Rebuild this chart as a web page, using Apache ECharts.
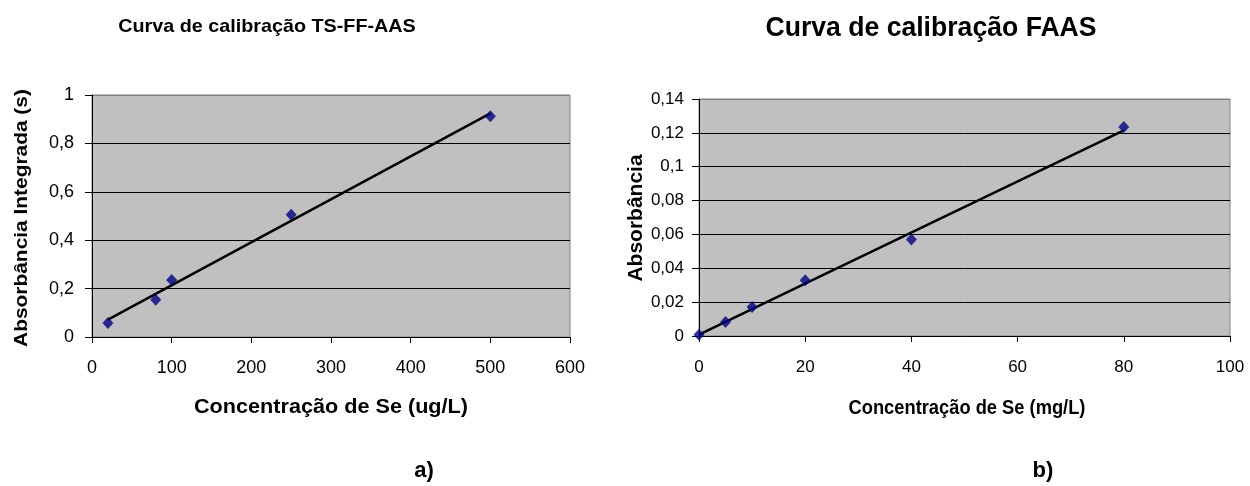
<!DOCTYPE html>
<html>
<head>
<meta charset="utf-8">
<script src="https://cdn.jsdelivr.net/npm/echarts@6/dist/echarts.min.js"></script>
<style>html,body{margin:0;padding:0;background:#fff}#c{width:1250px;height:486px}</style>
</head>
<body>
<div id="c"></div>
<script>
// Chart a) TS-FF-AAS
const concA = [20, 80, 100, 250, 500];
const absA = [0.058, 0.154, 0.236, 0.505, 0.912];
const trendAx = [20, 500];
const trendAy = [0.072, 0.924];
const xTicksA = [0, 600, 100];   // min, max, interval
const yTicksA = [0, 1, 0.2];

// Chart b) FAAS
const concB = [0, 5, 10, 20, 40, 80];
const absB = [0.0008, 0.0083, 0.0172, 0.0329, 0.057, 0.1235];
const trendBx = [0, 80];
const trendBy = [0.0008, 0.1215];
const xTicksB = [0, 100, 20];
const yTicksB = [0, 0.14, 0.02];

const FONT = 'Arial, "Liberation Sans", sans-serif';
const comma = v => String(v).replace('.', ',');
const pairs = (xs, ys) => xs.map((x, i) => [x, ys[i]]);

function xAxis(idx, t, size, margin) {
  return {
    type: 'value', gridIndex: idx, min: t[0], max: t[1], interval: t[2],
    axisLine: { show: true, onZero: false, lineStyle: { color: '#000', width: 1 } },
    axisTick: { show: true, inside: false, length: 6, lineStyle: { color: '#000' } },
    axisLabel: { color: '#000', fontSize: size, fontFamily: FONT, margin: margin },
    splitLine: { show: false }
  };
}
function yAxis(idx, t, size, margin, nLines) {
  const cols = [];
  for (let i = 0; i < nLines; i++) cols.push(i === nLines - 1 ? '#808080' : '#000');
  return {
    type: 'value', gridIndex: idx, min: t[0], max: t[1], interval: t[2],
    axisLine: { show: true, onZero: false, lineStyle: { color: '#000', width: 1 } },
    axisTick: { show: true, inside: false, length: 7, lineStyle: { color: '#000' } },
    axisLabel: { color: '#000', fontSize: size, fontFamily: FONT, margin: margin, formatter: comma },
    splitLine: { show: true, lineStyle: { color: cols, width: 1 } }
  };
}

const chart = echarts.init(document.getElementById('c'), null, { renderer: 'canvas' });
chart.setOption({
  animation: false,
  backgroundColor: '#fff',
  grid: [
    { left: 92, top: 95, width: 478, height: 242, show: true, backgroundColor: '#c0c0c0', borderColor: '#808080', borderWidth: 1 },
    { left: 699, top: 99, width: 531, height: 237, show: true, backgroundColor: '#c0c0c0', borderColor: '#808080', borderWidth: 1 }
  ],
  xAxis: [xAxis(0, xTicksA, 18, 22), xAxis(1, xTicksB, 17, 23)],
  yAxis: [yAxis(0, yTicksA, 18, 18, 6), yAxis(1, yTicksB, 17, 15, 8)],
  series: [
    { type: 'line', xAxisIndex: 0, yAxisIndex: 0, data: pairs(trendAx, trendAy), symbol: 'none',
      lineStyle: { color: '#000', width: 2.5 }, z: 3 },
    { type: 'scatter', xAxisIndex: 0, yAxisIndex: 0, data: pairs(concA, absA), symbol: 'diamond',
      symbolSize: [11, 12], itemStyle: { color: '#000080' }, z: 4 },
    { type: 'line', xAxisIndex: 1, yAxisIndex: 1, data: pairs(trendBx, trendBy), symbol: 'none',
      lineStyle: { color: '#000', width: 2.5 }, z: 3 },
    { type: 'scatter', xAxisIndex: 1, yAxisIndex: 1, data: pairs(concB, absB), symbol: 'diamond',
      symbolSize: [11, 12], itemStyle: { color: '#000080' }, z: 4 }
  ],
  graphic: [
    { type: 'text', x: 267, y: 27, scaleX: 1.04, style: { text: 'Curva de calibração TS-FF-AAS', align: 'center', verticalAlign: 'middle', fill: '#000', font: 'bold 19px ' + FONT } },
    { type: 'text', x: 931, y: 28, scaleX: 0.95, style: { text: 'Curva de calibração FAAS', align: 'center', verticalAlign: 'middle', fill: '#000', font: 'bold 28px ' + FONT } },
    { type: 'text', x: 22, y: 218, rotation: Math.PI / 2, scaleX: 1.1, style: { text: 'Absorbância Integrada (s)', align: 'center', verticalAlign: 'middle', fill: '#000', font: 'bold 19px ' + FONT } },
    { type: 'text', x: 331, y: 407, scaleX: 1.03, style: { text: 'Concentração de Se (ug/L)', align: 'center', verticalAlign: 'middle', fill: '#000', font: 'bold 21px ' + FONT } },
    { type: 'text', x: 636, y: 218, rotation: Math.PI / 2, style: { text: 'Absorbância', align: 'center', verticalAlign: 'middle', fill: '#000', font: 'bold 21px ' + FONT } },
    { type: 'text', x: 967, y: 408, scaleX: 0.915, style: { text: 'Concentração de Se (mg/L)', align: 'center', verticalAlign: 'middle', fill: '#000', font: 'bold 20px ' + FONT } },
    { type: 'text', x: 424, y: 471, style: { text: 'a)', align: 'center', verticalAlign: 'middle', fill: '#000', font: 'bold 22px ' + FONT } },
    { type: 'text', x: 1043, y: 471, style: { text: 'b)', align: 'center', verticalAlign: 'middle', fill: '#000', font: 'bold 22px ' + FONT } }
  ]
});
</script>
</body>
</html>
